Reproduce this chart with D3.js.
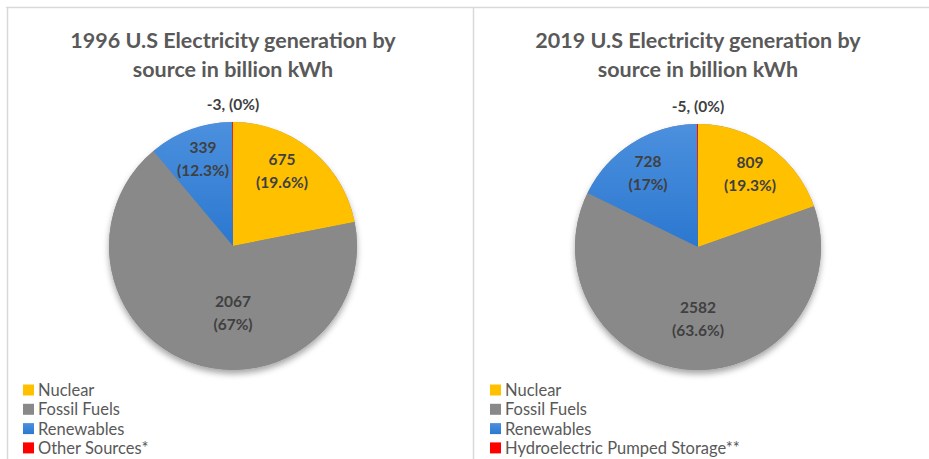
<!DOCTYPE html>
<html>
<head>
<meta charset="utf-8">
<script src="https://cdn.jsdelivr.net/npm/d3@7"></script>
<style>
  html, body { margin: 0; padding: 0; background: #fff; }
  svg { display: block; }
  text { font-family: Lato, "Open Sans", sans-serif; }
</style>
</head>
<body>
<svg id="chart" width="929" height="459"></svg>
<script>
// ---- data ----
const categories1996 = ["Nuclear", "Fossil Fuels", "Renewables", "Other Sources*"];
const values1996 = [675, 2067, 339, -3];
const pctLabels1996 = ["19.6%", "67%", "12.3%", "0%"];

const categories2019 = ["Nuclear", "Fossil Fuels", "Renewables", "Hydroelectric Pumped Storage**"];
const values2019 = [809, 2582, 728, -5];
const pctLabels2019 = ["19.3%", "63.6%", "17%", "0%"];

const titles = [
  ["1996 U.S Electricity generation by", "source in billion kWh"],
  ["2019 U.S Electricity generation by", "source in billion kWh"]
];

const colors = ["#FFC000", "#898989", "#3A83D6", "#FF0000"];

// ---- drawing ----
const svg = d3.select("#chart");
const defs = svg.append("defs");
const f = defs.append("filter").attr("id", "shadow")
  .attr("x", "-20%").attr("y", "-20%").attr("width", "140%").attr("height", "140%");
f.append("feDropShadow").attr("dx", 0).attr("dy", 4).attr("stdDeviation", 3)
  .attr("flood-color", "#000").attr("flood-opacity", 0.35);

const blueGrad = defs.append("linearGradient").attr("id", "blueGrad")
  .attr("x1", 0).attr("y1", 0).attr("x2", 0).attr("y2", 1);
blueGrad.append("stop").attr("offset", "0%").attr("stop-color", "#4C90DE");
blueGrad.append("stop").attr("offset", "100%").attr("stop-color", "#2B78D0");

function fillFor(i) { return i === 2 ? "url(#blueGrad)" : colors[i]; }

// panel borders
const borderColor = "#D9D9D9";
svg.append("line").attr("x1", 6).attr("x2", 929).attr("y1", 7.5).attr("y2", 7.5)
  .attr("stroke", borderColor).attr("stroke-width", 1.5);
svg.append("line").attr("x1", 7.5).attr("x2", 7.5).attr("y1", 7).attr("y2", 459)
  .attr("stroke", borderColor).attr("stroke-width", 1.5);
svg.append("line").attr("x1", 473.5).attr("x2", 473.5).attr("y1", 7).attr("y2", 459)
  .attr("stroke", borderColor).attr("stroke-width", 1.5);

const panels = [
  { cats: categories1996, vals: values1996, pcts: pctLabels1996, title: titles[0],
    cx: 233, cy: 246, r: 124, legendX: 23,
    labelPos: [[282, 160], [233, 302], [203, 148], [233, 105]] },
  { cats: categories2019, vals: values2019, pcts: pctLabels2019, title: titles[1],
    cx: 698, cy: 247, r: 123, legendX: 490,
    labelPos: [[750, 163], [698, 308], [648, 162], [698, 107]] }
];

panels.forEach(p => {
  const g = svg.append("g");
  // title
  g.append("text").attr("x", p.cx).attr("y", 48).attr("text-anchor", "middle")
    .attr("font-size", 21.5).attr("font-weight", "bold").attr("fill", "#595959")
    .text(p.title[0]);
  g.append("text").attr("x", p.cx).attr("y", 77).attr("text-anchor", "middle")
    .attr("font-size", 21.5).attr("font-weight", "bold").attr("fill", "#595959")
    .text(p.title[1]);

  const pie = d3.pie().sort(null).value(d => Math.abs(d));
  const arcs = pie(p.vals);
  const arc = d3.arc().innerRadius(0).outerRadius(p.r);

  const pg = g.append("g").attr("transform", `translate(${p.cx},${p.cy})`);
  pg.append("circle").attr("r", p.r).attr("fill", "#888").attr("filter", "url(#shadow)");
  pg.selectAll("path").data(arcs).enter().append("path")
    .attr("d", arc).attr("fill", (d, i) => fillFor(i));

  // labels
  arcs.forEach((a, i) => {
    const [lx, ly] = p.labelPos[i];
    if (i === 3) {
      g.append("text").attr("x", lx).attr("y", ly + 5).attr("text-anchor", "middle")
        .attr("font-size", 15.5).attr("font-weight", "bold").attr("fill", "#404040")
        .text(`${p.vals[i]}, (${p.pcts[i]})`);
    } else {
      g.append("text").attr("x", lx).attr("y", ly + 5).attr("text-anchor", "middle")
        .attr("font-size", 15.5).attr("font-weight", "bold").attr("fill", "#404040")
        .text(p.vals[i]);
      g.append("text").attr("x", lx).attr("y", ly + 28).attr("text-anchor", "middle")
        .attr("font-size", 15.5).attr("font-weight", "bold").attr("fill", "#404040")
        .text(`(${p.pcts[i]})`);
    }
  });

  // legend
  p.cats.forEach((c, i) => {
    const y = 390 + i * 19.3;
    g.append("rect").attr("x", p.legendX).attr("y", y - 5.5).attr("width", 11).attr("height", 11)
      .attr("fill", fillFor(i));
    g.append("text").attr("x", p.legendX + 15).attr("y", y + 6)
      .attr("font-size", 16.5).attr("fill", "#595959").text(c);
  });
});
</script>
</body>
</html>
